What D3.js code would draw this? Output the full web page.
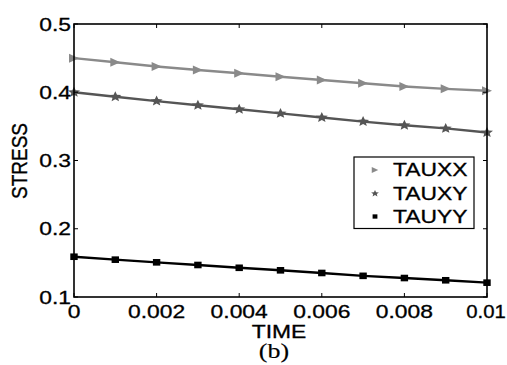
<!DOCTYPE html>
<html><head><meta charset="utf-8">
<script src="https://cdn.jsdelivr.net/npm/d3@7"></script>
<style>body{margin:0;background:#fff}svg{display:block}text{font-family:"Liberation Sans",Arial,sans-serif;fill:#000;stroke:#000;stroke-width:0.3}</style>
</head><body>
<svg id="c" width="507" height="365"></svg>
<script>
const time = [0,0.001,0.002,0.003,0.004,0.005,0.006,0.007,0.008,0.009,0.01];
const tauxx = [0.450,0.4440,0.4378,0.4326,0.4278,0.4228,0.4179,0.4131,0.4084,0.4050,0.4023];
const tauxy = [0.400,0.3935,0.3870,0.3810,0.3750,0.3690,0.3630,0.3570,0.3516,0.3470,0.3410];
const tauyy = [0.159,0.1547,0.1508,0.1469,0.1428,0.1391,0.1352,0.1310,0.1278,0.1245,0.1210];
const xTicks = [0,0.002,0.004,0.006,0.008,0.01];
const xTickLabels = ["0","0.002","0.004","0.006","0.008","0.01"];
const yTicks = [0.1,0.2,0.3,0.4,0.5];
const yTickLabels = ["0.1","0.2","0.3","0.4","0.5"];
const seriesNames = ["TAUXX","TAUXY","TAUYY"];
const seriesColors = ["#8a8a8a","#555555","#000000"];

const svg = d3.select("#c");
const L=74,R=487,T=24,B=297;
const x = d3.scaleLinear().domain([0,0.01]).range([L,R]);
const y = d3.scaleLinear().domain([0.1,0.5]).range([B,T]);
const SX = 1.27;
function txt(g, s, px, py, size, anchor, family, sx){
  const t = g.append("text").attr("transform",`translate(${px},${py}) scale(${sx||SX},1)`)
    .attr("font-size",size).attr("text-anchor",anchor||"start").text(s);
  if(family) t.style("font-family",family).style("stroke-width","0.15");
  return t;
}

const series = [tauxx,tauxy,tauyy];
const line = d3.line().x((d,i)=>x(time[i])).y(d=>y(d));
series.forEach((s,k)=>{
  svg.append("path").attr("d",line(s)).attr("fill","none")
    .attr("stroke",seriesColors[k]).attr("stroke-width",2.4);
});
function tri(cx,cy,w,h){return `M${cx-w/2},${cy-h/2}L${cx+w/2},${cy}L${cx-w/2},${cy+h/2}Z`;}
function star(cx,cy,r){
  let p="";for(let i=0;i<10;i++){const a=-Math.PI/2+i*Math.PI/5;const rr=i%2?r*0.45:r;
  p+=(i?"L":"M")+(cx+rr*Math.cos(a)*1.15)+","+(cy+rr*Math.sin(a));}return p+"Z";}
const mk = [
  (g,cx,cy,sc)=>g.append("path").attr("d",tri(cx,cy,10*sc,9*sc)).attr("fill",seriesColors[0]),
  (g,cx,cy,sc)=>g.append("path").attr("d",star(cx,cy,5.5*sc)).attr("fill",seriesColors[1]),
  (g,cx,cy,sc)=>g.append("rect").attr("x",cx-3.7*sc).attr("y",cy-3.3*sc).attr("width",7.4*sc).attr("height",6.6*sc).attr("fill",seriesColors[2])
];
series.forEach((s,k)=>{ s.forEach((v,i)=>mk[k](svg,x(time[i]),y(v),1)); });

// axes frame
const ax = svg.append("g");
ax.append("rect").attr("x",L).attr("y",T).attr("width",R-L).attr("height",B-T)
  .attr("fill","none").attr("stroke","#000").attr("stroke-width",1.6);
xTicks.forEach((v,i)=>{
  ax.append("line").attr("x1",x(v)).attr("x2",x(v)).attr("y1",B).attr("y2",B-4).attr("stroke","#000");
  ax.append("line").attr("x1",x(v)).attr("x2",x(v)).attr("y1",T).attr("y2",T+4).attr("stroke","#000");
  const last = i===xTicks.length-1;
  txt(ax,xTickLabels[i],last?x(v)-1:x(v),318,18,"middle",null,last?1.13:SX);
});
yTicks.forEach((v,i)=>{
  ax.append("line").attr("x1",L).attr("x2",L+4).attr("y1",y(v)).attr("y2",y(v)).attr("stroke","#000");
  ax.append("line").attr("x1",R).attr("x2",R-4).attr("y1",y(v)).attr("y2",y(v)).attr("stroke","#000");
  txt(ax,yTickLabels[i],71,y(v)+6.5,18,"end");
});
txt(svg,"TIME",279,337.5,18,"middle");
txt(svg,"(b)",274,357.5,20,"middle","'Liberation Serif','Times New Roman',serif",1.3);
svg.append("text").attr("transform","translate(27,161) rotate(-90) scale(1,1.2)")
  .attr("font-size",19).attr("text-anchor","middle").text("STRESS");

// legend
const lg = svg.append("g");
lg.append("rect").attr("x",354).attr("y",157).attr("width",120).attr("height",71.5)
  .attr("fill","#fff").attr("stroke","#000").attr("stroke-width",1.2);
const ly=[170,193.5,216.5];
seriesNames.forEach((n,k)=>{
  mk[k](lg,375,ly[k],0.65);
  txt(lg,n,393,ly[k]+6.3,18,"start");
});
</script>
</body></html>
